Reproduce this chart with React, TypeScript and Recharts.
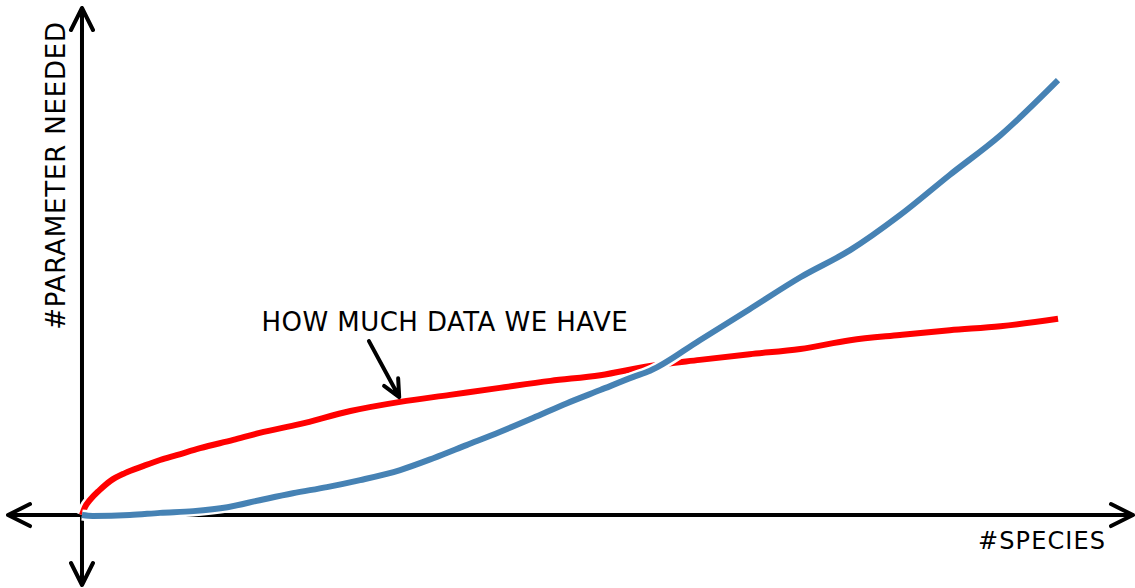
import { LineChart, Line, XAxis, YAxis, ReferenceLine, ReferenceDot } from 'recharts'

// red: how much data we have
const redSpecies = [0, 0.3, 0.8, 1.8, 2.9, 4.4, 6.25, 8.0, 9.7, 12.1, 15.5, 18.2, 22.3, 27.5, 32.6, 37.7, 42.8, 48.0, 53.1, 58.2, 63.3, 68.4, 73.6, 78.7, 83.8, 88.9, 94.1, 100]
const redParams = [0, 1.8, 3.4, 5.7, 7.8, 9.6, 11.2, 12.6, 13.7, 15.3, 17.2, 18.8, 20.8, 23.8, 25.9, 27.5, 29.1, 30.7, 32.0, 34.1, 35.5, 36.8, 38.0, 40.0, 41.2, 42.3, 43.2, 44.9]

// blue: parameters needed
const blueSpecies = [0, 1.1, 4.9, 8.0, 11.4, 14.9, 18.2, 21.6, 25.1, 28.5, 32.6, 36.0, 39.4, 42.8, 46.2, 49.7, 53.1, 56.5, 58.2, 63.3, 68.4, 73.6, 78.7, 83.8, 88.9, 94.1, 100]
const blueParams = [0, -0.2, 0, 0.5, 0.9, 1.8, 3.4, 5.0, 6.4, 8.0, 10.3, 13.0, 16.0, 19.0, 22.2, 25.6, 28.6, 31.6, 33.0, 40.0, 47.1, 54.4, 60.6, 68.6, 77.8, 86.9, 99.5]

const yLabel = '#PARAMETER NEEDED'
const xLabel = '#SPECIES'
const note = 'HOW MUCH DATA WE HAVE'

const redData = redSpecies.map((x, i) => ({ x, y: redParams[i] }))
const blueData = blueSpecies.map((x, i) => ({ x, y: blueParams[i] }))

const FONT = '"DejaVu Sans", sans-serif'

function head(tx: number, ty: number, fx: number, fy: number, len: number, half: number) {
  // arrow head at (tx,ty), pointing away from (fx,fy)
  const d = Math.hypot(tx - fx, ty - fy) || 1
  const ux = (tx - fx) / d
  const uy = (ty - fy) / d
  const bx = tx - ux * len
  const by = ty - uy * len
  return `M${bx - uy * half},${by + ux * half} L${tx},${ty} L${bx + uy * half},${by - ux * half}`
}

const AxisArrow = (props: any) => {
  const { x1, y1, x2, y2 } = props
  return (
    <path
      d={`M${x1},${y1} L${x2},${y2} ${head(x1, y1, x2, y2, 22, 11)} ${head(x2, y2, x1, y1, 22, 11)}`}
      fill="none"
      stroke="#000"
      strokeWidth={4}
      strokeLinecap="round"
      strokeLinejoin="round"
    />
  )
}

const NoteArrow = (props: any) => {
  const { x1, y1, x2, y2 } = props
  return (
    <path
      d={`M${x1},${y1} L${x2},${y2} ${head(x2, y2, x1, y1, 17, 8)}`}
      fill="none"
      stroke="#000"
      strokeWidth={4}
      strokeLinecap="round"
      strokeLinejoin="round"
    />
  )
}

export default function App() {
  return (
    <div style={{ position: 'absolute', left: 0, top: 0, background: '#fff' }}>
      <LineChart width={1135} height={588} margin={{ top: 8, right: 2, bottom: 3, left: 8 }}>
        <XAxis type="number" dataKey="x" domain={[-7.58, 107.68]} allowDataOverflow hide />
        <YAxis type="number" dataKey="y" domain={[-16, 116]} allowDataOverflow hide />

        <ReferenceLine y={0} shape={AxisArrow} />
        <ReferenceLine x={0} shape={AxisArrow} />

        <Line data={redData} dataKey="y" type="monotone" stroke="#fff" strokeWidth={11} dot={false} activeDot={false} isAnimationActive={false} />
        <Line data={redData} dataKey="y" type="monotone" stroke="#ff0000" strokeWidth={6} dot={false} activeDot={false} isAnimationActive={false} />
        <Line data={blueData} dataKey="y" type="monotone" stroke="#fff" strokeWidth={11} dot={false} activeDot={false} isAnimationActive={false} />
        <Line data={blueData} dataKey="y" type="monotone" stroke="#4682b4" strokeWidth={6} dot={false} activeDot={false} isAnimationActive={false} />

        <ReferenceLine segment={[{ x: 29.4, y: 39.8 }, { x: 32.5, y: 27.0 }]} shape={NoteArrow} />

        <ReferenceDot
          x={18.4}
          y={42.1}
          shape={(p: any) => (
            <text x={p.cx} y={p.cy} fontFamily={FONT} fontSize={26} textLength={366} fill="#000">
              {note}
            </text>
          )}
        />
        <ReferenceDot
          x={91.8}
          y={-7.8}
          shape={(p: any) => (
            <text x={p.cx} y={p.cy} fontFamily={FONT} fontSize={24} textLength={127} fill="#000">
              {xLabel}
            </text>
          )}
        />
        <ReferenceDot
          x={-2.66}
          y={77.6}
          shape={(p: any) => (
            <text
              x={p.cx}
              y={p.cy}
              transform={`rotate(-90 ${p.cx} ${p.cy})`}
              textAnchor="middle"
              dominantBaseline="central"
              fontFamily={FONT}
              fontSize={26}
              textLength={308}
              fill="#000"
            >
              {yLabel}
            </text>
          )}
        />
      </LineChart>
    </div>
  )
}
